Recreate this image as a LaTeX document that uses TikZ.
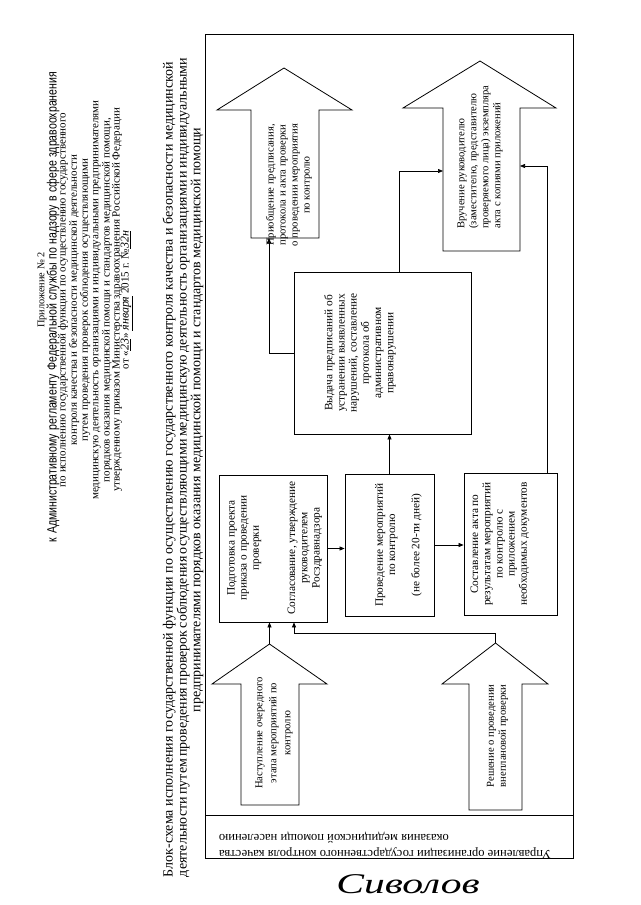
\documentclass[tikz,border=0pt]{standalone}
\usepackage{fontspec}
\setmainfont{Liberation Serif}
\newfontfamily\narrowsans[FakeStretch=0.78]{Liberation Sans}
\usetikzlibrary{arrows.meta}
\begin{document}
\begin{tikzpicture}[x=1pt,y=-1pt,
  frm/.style={draw, line width=0.8pt},
  boxs/.style={draw, line width=0.8pt, inner sep=0pt},
  conn/.style={draw, line width=0.7pt, -{Triangle[length=5pt,width=4pt]}},
  btxt/.style={rotate=90, align=center, inner sep=0pt, font=\fontsize{11.3}{12.2}\selectfont},
  atxt/.style={rotate=90, align=center, inner sep=0pt, font=\fontsize{10.6}{12}\selectfont},
  hdr/.style={rotate=90, inner sep=0pt, font=\fontsize{11}{10.7}\selectfont},
  ttl/.style={rotate=90, inner sep=0pt, font=\fontsize{14}{13}\selectfont}]
\useasboundingbox[fill=white] (0,0) rectangle (640,905);

% header
\node[hdr, font=\fontsize{10.3}{10.7}\selectfont] (h1) at (42,290) {Приложение № 2};
\node[hdr, font=\narrowsans\fontsize{13.5}{14}\selectfont] (h2) at (53,307) {\makebox[470pt][s]{к Административному регламенту Федеральной службы по надзору в сфере здравоохранения}};
\node[hdr] (h3) at (63,300) {по исполнению государственной функции по осуществлению государственного};
\node[hdr] (h4) at (74,300) {контроля качества и безопасности медицинской деятельности};
\node[hdr] (h5) at (85,300) {путем проведения проверок соблюдения осуществляющими};
\node[hdr] (h6) at (97,300) {медицинскую деятельность организациями и индивидуальными предпринимателями};
\node[hdr] (h7) at (107,300) {порядков оказания медицинской помощи и стандартов медицинской помощи,};
\node[hdr] (h8) at (117,300) {утвержденному приказом Министерства здравоохранения Российской Федерации};
\node[hdr] (h9) at (127,300) {от «\underline{\textit{\large 23}}» \underline{\textit{\large января}} 2015 г. №\underline{\textit{\large 32н}}};

% title
\node[ttl] (t1) at (169,469.5) {\makebox[815pt][s]{Блок-схема исполнения государственной функции по осуществлению государственного контроля качества и безопасности медицинской}};
\node[ttl] (t2) at (183,469.5) {\makebox[815pt][s]{деятельности путем проведения проверок соблюдения осуществляющими медицинскую деятельность организациями и индивидуальными}};
\node[ttl] (t3) at (197,420) {предпринимателями порядков оказания медицинской помощи и стандартов медицинской помощи};

% frame
\draw[frm] (205,34) rectangle (573,858);
\draw[frm] (205,815) -- (573,815);
\node[rotate=180, align=right, inner sep=0pt, font=\fontsize{12.6}{16}\selectfont] (org) at (385,845)
  {Управление организации государственного контроля качества\\оказания медицинской помощи населению};

% block arrows
\draw[frm] (251,238) -- (251,110) -- (217,110) -- (284,68) -- (352,110) -- (319,110) -- (319,238) -- cycle;
\draw[frm] (443,251) -- (443,108) -- (403,108) -- (480,61) -- (556,108) -- (520,108) -- (520,251) -- cycle;
\draw[frm] (241,805) -- (241,684) -- (212,684) -- (269.5,644) -- (327,684) -- (299,684) -- (299,805) -- cycle;
\draw[frm] (469,810) -- (469,684) -- (442,684) -- (495.5,643) -- (548,684) -- (522,684) -- (522,810) -- cycle;
\coordinate (A1in) at (269,238);
\coordinate (A2l) at (443,171);
\coordinate (A2r) at (520,166);
\coordinate (A3tip) at (269.5,644);
\coordinate (A4tip) at (495.5,643);

\node[atxt] (a1t) at (289,185) {Приобщение предписания,\\протокола и акта проверки\\о проведении  мероприятия\\по контролю};
\node[atxt, align=left] (a2t) at (480,157) {Вручение руководителю\\(заместителю, представителю\\проверяемого лица) экземпляра\\акта с копиями приложений};
\node[atxt, font=\fontsize{10.6}{14}\selectfont] (a3t) at (274,733) {Наступление очередного\\этапа мероприятий по\\контролю};
\node[atxt] (a4t) at (497.5,736) {Решение о проведении\\внеплановой проверки};

% boxes
\node[boxs, minimum width=108pt, minimum height=147pt] (P) at (273,548.5) {};
\node[boxs, minimum width=89pt, minimum height=142pt] (M) at (389.5,545) {};
\node[boxs, minimum width=93pt, minimum height=142pt] (S) at (510.5,544) {};
\node[boxs, minimum width=177pt, minimum height=162pt] (V) at (382.5,353) {};

\node[btxt] (Pt) at (274.5,548) {Подготовка проекта\\приказа о проведении\\проверки\\[24pt]Согласование, утверждение\\руководителем\\Росздравнадзора};
\node[btxt] (Mt) at (398.5,545) {Проведение мероприятий\\по контролю\\[12pt](не более 20-ти дней)};
\node[btxt] (St) at (500,544) {Составление акта по\\результатам мероприятий\\по контролю с\\приложением\\необходимых документов};
\node[btxt] (Vt) at (360,353) {Выдача предписаний об\\устранении  выявленных\\нарушений,  составление\\протокола об\\административном\\правонарушении};

% connectors
\draw[conn] (A3tip) -- (A3tip |- P.south);
\draw[conn] (A4tip) -- ++(0,-10) -| ([xshift=21pt]P.south);
\draw[conn] (P.east) -- (P.east -| M.west);
\draw[conn] (M.east) -- (M.east -| S.west);
\draw[conn] (M.north) -- (M.north |- V.south);
\draw[conn] (V.west) -| (A1in);
\draw[conn] ([xshift=16.5pt]V.north) |- (A2l);
\draw[conn] ([xshift=36.5pt]S.north) |- (A2r);

% signature
\node[font=\fontsize{26}{26}\selectfont\itshape] (sig) at (408,884) {\scalebox{1.6}[1.1]{Сиволов}};
\end{tikzpicture}
\end{document}
